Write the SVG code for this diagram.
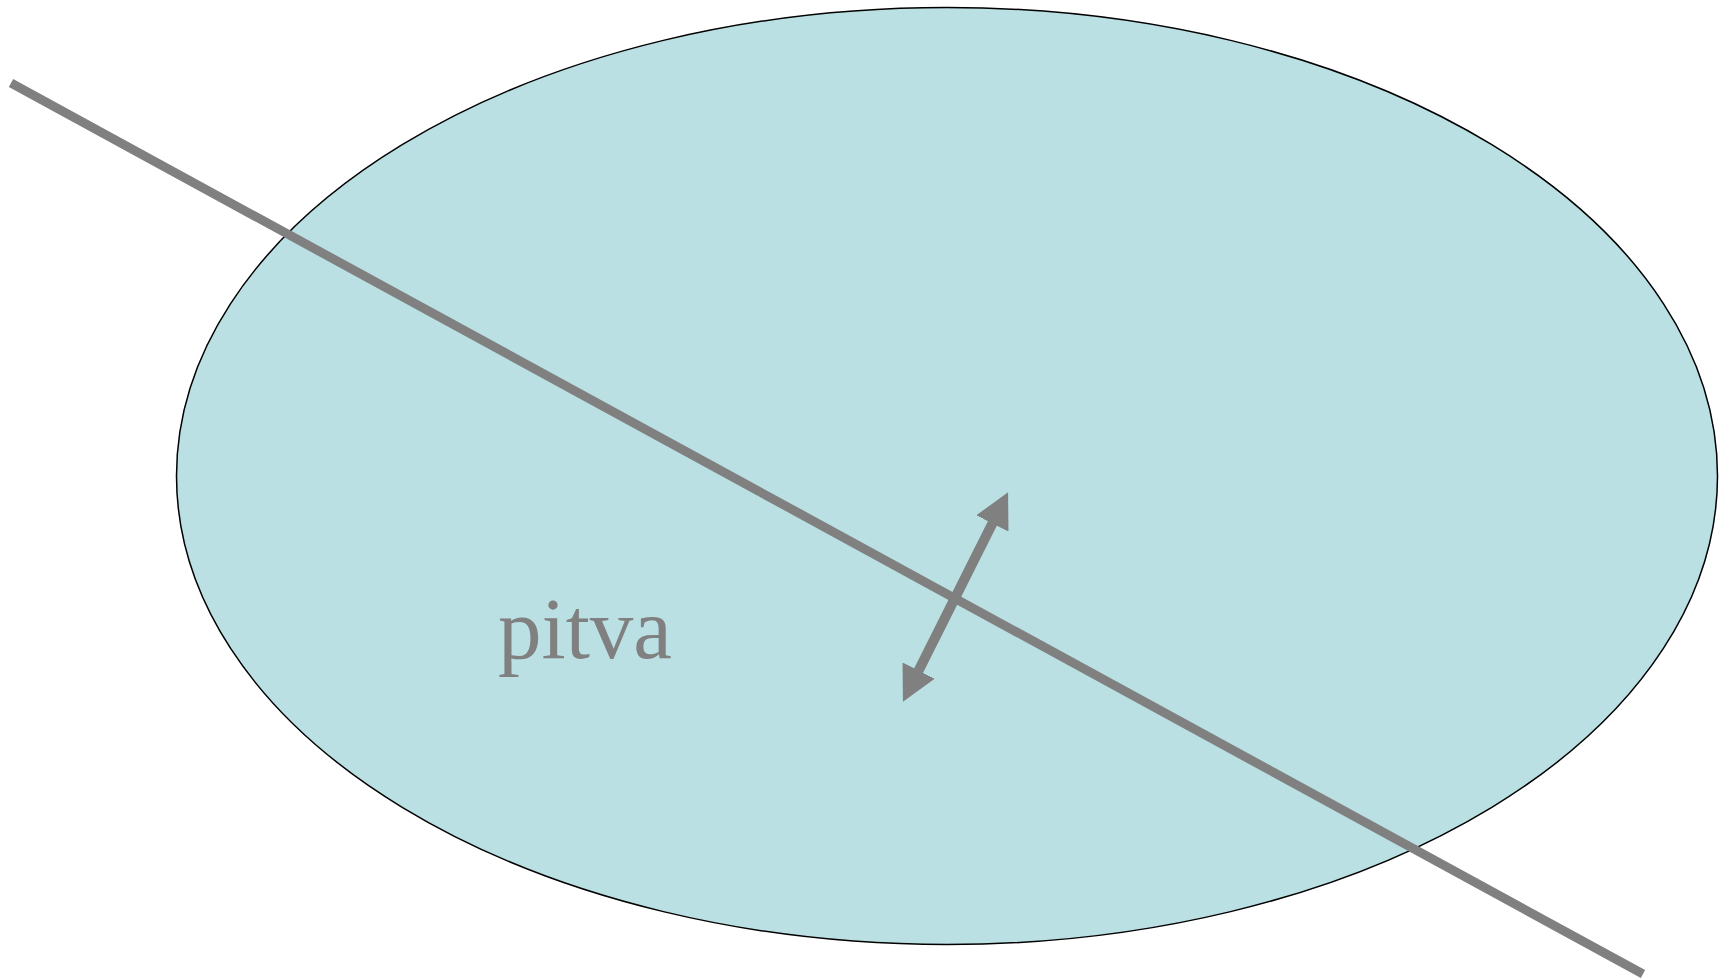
<svg xmlns="http://www.w3.org/2000/svg" width="1730" height="980" viewBox="0 0 1730 980">
  <style>
    .line { stroke: #808080; stroke-width: 9; fill: none; }
    .arrow { stroke: #808080; stroke-width: 10; fill: none; }
    .label { font-family: "Liberation Serif", "Times New Roman", serif; font-size: 87px; fill: #808080; }
  </style>
  <defs>
    <marker id="head" markerUnits="userSpaceOnUse" markerWidth="36" markerHeight="36" viewBox="0 0 36 36" refX="0.5" refY="18" orient="auto-start-reverse">
      <path d="M0,0 L35,18 L0,36 z" fill="#808080"/>
    </marker>
  </defs>
  <g id="pitva">
    <ellipse cx="947" cy="476" rx="770.5" ry="468.5" fill="#bae0e3" stroke="#000" stroke-width="1.5"/>
    <text class="label" x="498" y="658">pitva</text>
  </g>
  <g id="connectors">
    <line class="line" x1="11" y1="83" x2="1643" y2="974"/>
    <line class="arrow" x1="918.4" y1="671" x2="992.6" y2="523" marker-start="url(#head)" marker-end="url(#head)"/>
  </g>
</svg>
